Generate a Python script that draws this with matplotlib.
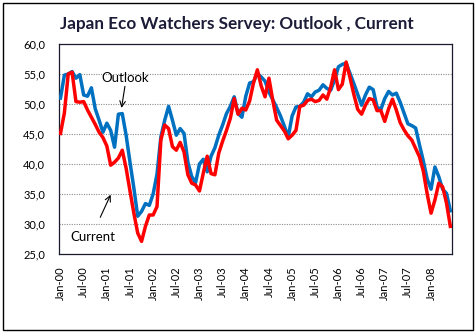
import matplotlib
matplotlib.use('Agg')
import matplotlib.pyplot as plt
from matplotlib.patches import Rectangle

plt.rcParams['font.family'] = ['Lato', 'DejaVu Sans']

# Monthly index: Jan-2000 .. Jun-2008
months = list(range(102))

current = [45.1, 48.5, 55.0, 55.3, 50.4, 50.3, 50.4, 49.0, 47.8, 46.6, 45.3, 44.4,
           43.0, 39.8, 40.3, 41.0, 42.3, 39.3, 35.5, 31.8, 28.5, 27.1, 29.6, 31.5,
           31.5, 32.9, 44.0, 46.5, 45.9, 42.9, 42.3, 43.6, 42.0, 38.2, 36.8, 36.5,
           35.5, 38.5, 41.3, 38.4, 38.2, 41.8, 43.8, 45.6, 47.6, 50.9, 48.3, 49.3,
           49.0, 50.5, 53.5, 55.7, 53.0, 51.2, 54.3, 50.6, 47.3, 46.4, 45.5, 44.2,
           44.8, 45.6, 49.6, 49.8, 50.6, 50.8, 50.4, 50.6, 51.5, 50.8, 52.8, 55.7,
           52.4, 53.3, 57.0, 54.4, 51.6, 49.1, 48.3, 49.8, 50.9, 50.7, 48.9, 48.9,
           47.1, 49.2, 50.8, 49.0, 46.9, 45.7, 44.7, 44.0, 42.6, 41.2, 38.8, 35.0,
           31.8, 34.0, 36.8, 36.2, 33.5, 29.6]

outlook = [51.0, 54.8, 55.0, 55.4, 54.3, 54.9, 51.5, 51.3, 52.7, 49.2, 47.3, 45.3,
           46.8, 45.6, 42.8, 48.3, 48.4, 44.8, 40.3, 36.0, 31.3, 32.1, 33.4, 33.1,
           35.0, 38.3, 44.5, 47.3, 49.6, 47.3, 44.8, 45.9, 45.1, 40.3, 37.9, 36.9,
           40.0, 40.8, 38.7, 41.3, 42.7, 44.8, 46.5, 48.4, 49.6, 51.2, 48.4, 47.8,
           51.3, 53.5, 53.7, 55.1, 54.5, 53.8, 52.0, 50.7, 49.4, 48.0, 46.3, 44.5,
           48.0, 49.5, 49.6, 50.3, 51.7, 51.2, 52.0, 52.3, 53.2, 52.6, 52.3, 54.0,
           56.2, 56.6, 56.8, 55.1, 53.4, 51.6, 49.8, 51.5, 52.8, 52.4, 49.5, 49.1,
           50.9, 52.1, 51.5, 51.8, 50.3, 48.5, 46.7, 46.4, 46.0, 43.2, 40.5, 37.5,
           35.8, 39.5, 37.9, 35.8, 35.1, 32.2]

x_tick_pos = [0, 6, 12, 18, 24, 30, 36, 42, 48, 54, 60, 66, 72, 78, 84, 90, 96]
x_tick_labels = ['Jan-00', 'Jul-00', 'Jan-01', 'Jul-01', 'Jan-02', 'Jul-02',
                 'Jan-03', 'Jul-03', 'Jan-04', 'Jul-04', 'Jan-05', 'Jul-05',
                 'Jan-06', 'Jul-06', 'Jan-07', 'Jul-07', 'Jan-08']
y_ticks = [25, 30, 35, 40, 45, 50, 55, 60]
y_tick_labels = ['25,0', '30,0', '35,0', '40,0', '45,0', '50,0', '55,0', '60,0']

W, H = 475, 332
fig = plt.figure(figsize=(W / 100, H / 100), dpi=100)
fig.patch.set_facecolor('white')

# outer chart border
fig.add_artist(Rectangle((3 / W, 2.5 / H), 469.5 / W, 327 / H, transform=fig.transFigure,
                         fill=False, edgecolor='black', lw=1.0))

ax = fig.add_axes([59 / W, 1 - 254 / H, (451.7 - 59) / W, 210 / H])
ax.set_xlim(-0.39, 101.35)
ax.set_ylim(25, 60)

for yv in y_ticks[1:-1]:
    ax.axhline(yv, color='#8c8c8c', lw=0.8, linestyle=(0, (1, 1.2)), zorder=1)

ax.plot(months, outlook, color='#0070C0', lw=2.5, zorder=3)
ax.plot(months, current, color='#FF0000', lw=2.5, zorder=4)

ax.set_xticks(x_tick_pos)
ax.set_xticklabels(x_tick_labels, rotation=90, fontsize=8, color='black')
ax.set_yticks(y_ticks)
ax.set_yticklabels(y_tick_labels, fontsize=8, color='black')
ax.tick_params(axis='x', length=0, pad=9)
ax.tick_params(axis='y', length=0, pad=10)

for sp in ax.spines.values():
    sp.set_color('#1a1a2e')
    sp.set_linewidth(0.9)

# annotations
ax.annotate('', xy=(15.7, 48.9), xytext=(16.8, 53.4),
            arrowprops=dict(arrowstyle='->', color='black', lw=0.8))
ax.text(16.7, 54.3, 'Outlook', fontsize=9.5, ha='center', va='center', color='black')
ax.annotate('', xy=(13.3, 35.3), xytext=(10.0, 30.7),
            arrowprops=dict(arrowstyle='->', color='black', lw=0.8))
ax.text(8.3, 27.8, 'Current', fontsize=9.5, ha='center', va='center', color='black')

fig.text(237 / W, 1 - 24 / H, 'Japan Eco Watchers Servey: Outlook , Current',
         ha='center', va='center', fontsize=12.3, fontweight='bold', color='#1c1c38')

fig.savefig('out.png', dpi=100, facecolor='white')
